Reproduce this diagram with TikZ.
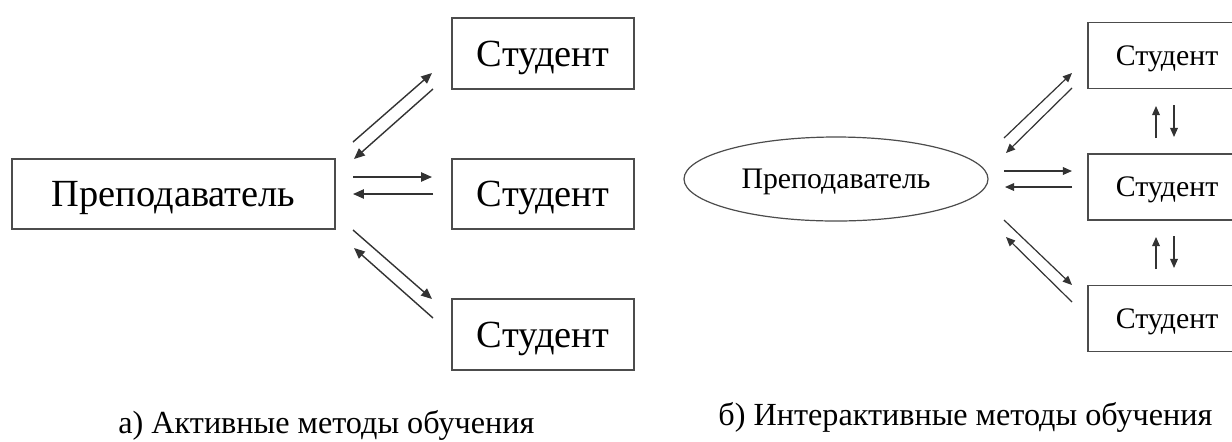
\documentclass[tikz,border=0pt]{standalone}
\usepackage{fontspec}
\setmainfont{Liberation Serif}
\usetikzlibrary{arrows.meta,shapes.geometric}

\tikzset{
  px/.style={x=0.5pt,y=-0.5pt},
  bigbox/.style={draw=black!70,line width=0.8pt,rectangle,inner sep=0pt,
    text depth=0pt,font=\fontsize{19.2}{23}\selectfont},
  smallbox/.style={draw=black!70,line width=0.7pt,rectangle,inner sep=0pt,
    text depth=0pt,font=\fontsize{14.9}{18}\selectfont},
  oval/.style={draw=black!70,line width=0.6pt,ellipse,inner sep=0pt,
    minimum width=152pt,minimum height=42pt,text depth=0pt,
    font=\fontsize{14.9}{18}\selectfont},
  biglink/.style={draw=black!80,line width=0.7pt,-{Triangle[length=5.4pt,width=4.6pt]}},
  smalllink/.style={draw=black!80,line width=0.6pt,-{Triangle[length=4.6pt,width=3.9pt]}},
  caption/.style={anchor=base west,inner sep=0pt,font=\fontsize{16.1}{19}\selectfont}
}

\begin{document}
\begin{tikzpicture}[px]
\clip (0,0) rectangle (1232,441);
\fill[white] (0,0) rectangle (1232,441);

% ---- a) active methods ----
\node[bigbox,minimum width=161.5pt,minimum height=35pt] (tA) at (173.5,194) {Преподаватель};
\node[bigbox,minimum width=91pt,minimum height=35.5pt] (sA1) at (543,53.5) {Студент};
\node[bigbox,minimum width=91pt,minimum height=35pt] (sA2) at (543,194) {Студент};
\node[bigbox,minimum width=91pt,minimum height=35.5pt] (sA3) at (543,334.5) {Студент};

\coordinate (a1) at (353,142); \coordinate (a2) at (432,73);
\coordinate (a3) at (433,89);  \coordinate (a4) at (354,159);
\coordinate (a5) at (353,177); \coordinate (a6) at (432,177);
\coordinate (a7) at (433,194); \coordinate (a8) at (353,194);
\coordinate (a9) at (353,230); \coordinate (a10) at (432,299);
\coordinate (a11) at (433,318); \coordinate (a12) at (354,248);

\draw[biglink] (a1) -- (a2);
\draw[biglink] (a3) -- (a4);
\draw[biglink] (a5) -- (a6);
\draw[biglink] (a7) -- (a8);
\draw[biglink] (a9) -- (a10);
\draw[biglink] (a11) -- (a12);

\node[caption] (capA) at (118,433) {а) Активные методы обучения};

% ---- b) interactive methods ----
\node[oval] (tB) at (836,179) {Преподаватель};
% the student column runs past the right edge of the page
\node[smallbox,minimum width=86pt,minimum height=33pt] (sB1) at (1174,55.5) {\hspace*{-7pt}Студент};
\node[smallbox,minimum width=86pt,minimum height=33pt] (sB2) at (1174,187) {\hspace*{-7pt}Студент};
\node[smallbox,minimum width=86pt,minimum height=33pt] (sB3) at (1174,318.5) {\hspace*{-7pt}Студент};

\coordinate (b1) at (1004,138); \coordinate (b2) at (1072,73);
\coordinate (b3) at (1072,88);  \coordinate (b4) at (1006,153);
\coordinate (b5) at (1004,171); \coordinate (b6) at (1072,171);
\coordinate (b7) at (1072,187); \coordinate (b8) at (1005,187);
\coordinate (b9) at (1004,220); \coordinate (b10) at (1072,285);
\coordinate (b11) at (1072,302); \coordinate (b12) at (1006,237);

\draw[smalllink] (b1) -- (b2);
\draw[smalllink] (b3) -- (b4);
\draw[smalllink] (b5) -- (b6);
\draw[smalllink] (b7) -- (b8);
\draw[smalllink] (b9) -- (b10);
\draw[smalllink] (b11) -- (b12);

% links between neighbouring students
\coordinate (v1) at (1156,138); \coordinate (v2) at (1156,106);
\coordinate (v3) at (1174,105); \coordinate (v4) at (1174,137);
\coordinate (v5) at (1156,269); \coordinate (v6) at (1156,237);
\coordinate (v7) at (1174,236); \coordinate (v8) at (1174,268);

\draw[smalllink] (v1) -- (v2);
\draw[smalllink] (v3) -- (v4);
\draw[smalllink] (v5) -- (v6);
\draw[smalllink] (v7) -- (v8);

\node[caption] (capB) at (718,425) {б) Интерактивные методы обучения};
\end{tikzpicture}
\end{document}
